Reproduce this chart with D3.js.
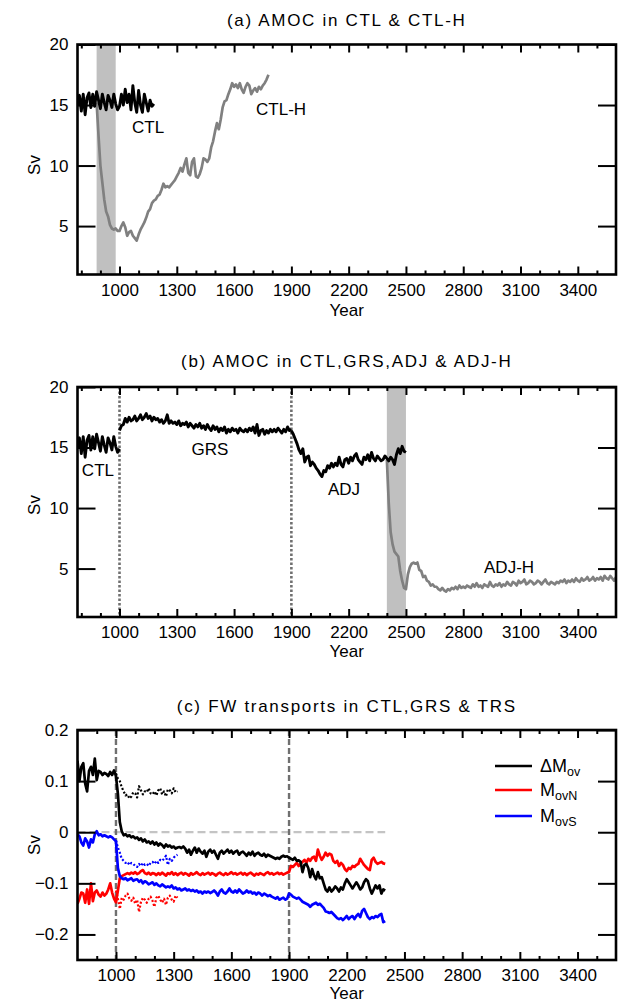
<!DOCTYPE html>
<html><head><meta charset="utf-8">
<script src="https://cdn.jsdelivr.net/npm/d3@7"></script>
<style>
body{margin:0;background:#fff}
text{font-family:"Liberation Sans",Arial,sans-serif;fill:#000}
</style>
</head><body>
<svg id="chart" width="618" height="1002"></svg>
<script>
// ---------------- DATA ----------------
// Panel (a): CTL, start 780, step 10
const ctlStart = 780;
const ctlValues = [15.0,15.8,14.5,15.9,14.2,15.6,16.0,14.8,15.9,14.9,
  16.1,15.4,14.7,15.9,15.2,14.6,15.8,15.4,14.8,15.9,
  15.1,14.6,14.9,15.9,15.0,16.3,15.2,15.9,14.6,16.6,
  15.2,14.4,16.2,15.0,14.4,15.9,15.2,14.5,15.4,14.9,15.1];
// CTL-H, start 880, step 10
const ctlhStart = 880;
const ctlhValues = [15.2,12.5,10.0,8.6,7.2,6.2,5.8,5.1,4.8,4.7,
  4.8,4.6,4.6,5.0,5.3,4.9,4.2,4.5,4.6,4.2,
  4.0,3.8,4.3,4.7,5.0,5.3,5.7,6.2,6.4,6.9,
  7.1,7.2,7.5,7.6,8.0,8.5,8.2,8.3,8.2,8.4,
  8.6,8.8,9.1,9.4,9.8,9.5,10.1,10.6,9.4,9.2,
  10.3,10.6,9.1,9.0,9.3,9.8,10.6,10.5,10.3,10.6,
  11.5,12.0,12.8,13.5,13.0,13.8,14.8,15.3,15.4,15.9,
  16.3,16.8,16.5,16.7,16.4,16.8,16.3,16.0,16.5,16.8,
  16.6,15.9,16.2,16.4,16.1,16.5,16.3,16.6,16.8,17.1,17.5];
const hosingA = [880, 980];

// Panel (b): CTL (780-1000) reuses ctlValues; GRS start 1000 step 10
const grsStart = 1000;
const grsValues = [16.4,16.8,16.9,17.4,17.1,17.5,17.2,17.3,17.6,17.2,
  17.4,17.7,17.3,17.5,17.8,17.4,17.6,17.2,17.5,17.3,
  17.4,17.1,17.3,17.0,17.2,17.7,17.0,17.2,17.0,17.1,
  16.9,17.2,16.8,17.0,16.9,17.1,16.7,17.0,16.8,16.6,
  16.9,16.7,17.0,16.6,16.8,16.5,16.9,16.6,16.4,16.8,
  16.5,16.7,16.3,16.6,16.4,16.7,16.2,16.5,16.3,16.6,
  16.4,16.5,16.2,16.6,16.4,16.3,16.5,16.3,16.6,16.4,
  16.7,16.2,16.9,16.0,16.4,16.5,16.1,16.4,16.2,16.5,
  16.3,16.5,16.3,16.6,16.4,16.2,16.5,16.3,16.7,16.4,16.5];
const adjStart = 1900;
const adjValues = [16.4,16.1,15.7,15.3,14.8,14.5,14.9,13.8,14.2,14.3,
  13.5,13.8,13.6,13.3,13.1,12.8,12.6,13.1,13.0,13.5,
  13.3,13.7,13.4,13.7,13.5,14.2,13.6,13.4,14.0,14.1,
  13.7,14.2,13.9,14.3,14.5,14.0,13.8,13.6,14.2,14.0,
  14.4,13.9,14.6,14.1,13.9,14.3,14.1,13.9,14.0,14.3,
  14.1,13.9,14.2,14.0,13.6,14.4,14.9,14.5,15.1,14.7,14.6];
const adjhStart = 2400;
const adjhValues = [14.0,10.4,8.0,7.0,6.4,6.2,6.0,4.8,4.0,3.4,
  3.3,4.5,5.1,5.4,5.5,5.4,5.5,4.9,4.8,4.3,
  4.4,4.0,3.9,3.6,3.7,3.5,3.5,3.3,3.2,3.4,
  3.2,3.1,3.3,3.2,3.4,3.3,3.5,3.3,3.6,3.4,
  3.5,3.4,3.6,3.5,3.4,3.7,3.5,3.8,3.5,3.6,
  3.4,3.7,3.6,3.5,3.9,3.6,3.5,3.7,3.6,3.8,
  3.5,3.7,3.6,3.9,3.7,3.6,3.9,3.8,3.6,4.0,
  3.8,3.9,4.1,3.7,3.8,4.0,3.9,3.7,3.8,4.0,
  3.9,3.7,3.9,4.1,3.8,3.7,3.9,3.8,3.7,3.9,
  3.8,4.0,3.9,4.1,3.8,4.0,3.9,4.1,3.9,4.2,
  4.0,3.9,4.2,4.0,4.1,4.3,4.0,4.1,4.3,4.0,
  4.2,4.1,4.3,4.0,4.4,4.2,4.1,4.4,4.2,4.0,4.3];
const hosingB = [2400, 2500];
const phaseLinesB = [1000, 1900];

// Panel (c): FW transports, start 800 step 10
const fwStart = 800;
const dMovValues = [0.140,0.100,0.128,0.135,0.095,0.080,0.120,0.128,0.112,0.144,
  0.102,0.120,0.118,0.112,0.116,0.114,0.110,0.118,0.112,0.121,
  0.110,0.075,0.020,0.002,-0.006,-0.004,-0.008,-0.006,-0.010,-0.008,
  -0.012,-0.010,-0.015,-0.012,-0.018,-0.014,-0.020,-0.018,-0.022,-0.018,
  -0.024,-0.020,-0.026,-0.022,-0.025,-0.030,-0.024,-0.028,-0.026,-0.030,
  -0.028,-0.032,-0.030,-0.029,-0.031,-0.028,-0.032,-0.040,-0.034,-0.044,
  -0.036,-0.030,-0.040,-0.032,-0.038,-0.042,-0.036,-0.048,-0.038,-0.034,
  -0.040,-0.036,-0.044,-0.052,-0.040,-0.036,-0.042,-0.038,-0.034,-0.040,
  -0.036,-0.042,-0.038,-0.036,-0.044,-0.040,-0.038,-0.042,-0.046,-0.040,
  -0.044,-0.038,-0.046,-0.042,-0.040,-0.044,-0.046,-0.042,-0.048,-0.044,
  -0.046,-0.048,-0.050,-0.052,-0.050,-0.052,-0.048,-0.046,-0.048,-0.047,
  -0.050,-0.052,-0.054,-0.050,-0.056,-0.055,-0.058,-0.078,-0.064,-0.062,
  -0.070,-0.088,-0.072,-0.085,-0.092,-0.078,-0.090,-0.088,-0.100,-0.112,
  -0.116,-0.108,-0.116,-0.112,-0.106,-0.110,-0.116,-0.108,-0.112,-0.100,
  -0.092,-0.098,-0.104,-0.110,-0.104,-0.098,-0.104,-0.112,-0.108,-0.098,
  -0.092,-0.096,-0.110,-0.120,-0.112,-0.104,-0.110,-0.104,-0.120,-0.112,
  -0.114];
const movNValues = [-0.140,-0.130,-0.118,-0.120,-0.138,-0.112,-0.140,-0.100,-0.135,-0.118,
  -0.114,-0.122,-0.126,-0.118,-0.124,-0.120,-0.112,-0.100,-0.118,-0.130,
  -0.137,-0.114,-0.090,-0.086,-0.084,-0.082,-0.080,-0.082,-0.079,-0.081,
  -0.078,-0.082,-0.080,-0.076,-0.074,-0.080,-0.082,-0.079,-0.083,-0.080,
  -0.081,-0.084,-0.080,-0.083,-0.079,-0.082,-0.085,-0.080,-0.082,-0.078,
  -0.083,-0.080,-0.084,-0.081,-0.079,-0.083,-0.080,-0.082,-0.085,-0.080,
  -0.083,-0.081,-0.078,-0.082,-0.084,-0.080,-0.083,-0.081,-0.079,-0.083,
  -0.080,-0.082,-0.085,-0.081,-0.079,-0.082,-0.084,-0.080,-0.083,-0.081,
  -0.078,-0.082,-0.080,-0.083,-0.081,-0.079,-0.083,-0.080,-0.084,-0.081,
  -0.079,-0.082,-0.085,-0.081,-0.083,-0.080,-0.082,-0.084,-0.080,-0.078,
  -0.082,-0.080,-0.083,-0.081,-0.079,-0.082,-0.080,-0.083,-0.081,-0.079,
  -0.078,-0.066,-0.068,-0.064,-0.060,-0.066,-0.062,-0.058,-0.054,-0.060,
  -0.052,-0.056,-0.050,-0.048,-0.056,-0.034,-0.046,-0.054,-0.048,-0.040,
  -0.046,-0.042,-0.044,-0.056,-0.060,-0.056,-0.066,-0.060,-0.064,-0.072,
  -0.076,-0.070,-0.072,-0.066,-0.068,-0.064,-0.062,-0.052,-0.058,-0.064,
  -0.068,-0.072,-0.074,-0.054,-0.050,-0.058,-0.062,-0.060,-0.058,-0.061,
  -0.062];
const movSValues = [-0.004,-0.008,-0.020,-0.026,-0.012,-0.018,-0.030,-0.014,-0.020,-0.004,
  0.002,-0.006,-0.004,-0.008,-0.006,-0.008,-0.010,-0.008,-0.010,-0.014,
  -0.018,-0.070,-0.086,-0.090,-0.092,-0.090,-0.094,-0.092,-0.090,-0.095,
  -0.093,-0.092,-0.097,-0.094,-0.100,-0.096,-0.098,-0.102,-0.100,-0.098,
  -0.103,-0.100,-0.104,-0.106,-0.102,-0.105,-0.108,-0.106,-0.108,-0.104,
  -0.110,-0.108,-0.112,-0.110,-0.114,-0.112,-0.110,-0.114,-0.112,-0.115,
  -0.113,-0.116,-0.114,-0.118,-0.116,-0.120,-0.116,-0.118,-0.116,-0.119,
  -0.117,-0.114,-0.118,-0.124,-0.116,-0.112,-0.118,-0.120,-0.116,-0.110,
  -0.116,-0.118,-0.114,-0.118,-0.112,-0.116,-0.120,-0.118,-0.114,-0.118,
  -0.116,-0.120,-0.118,-0.122,-0.118,-0.120,-0.124,-0.120,-0.122,-0.125,
  -0.123,-0.126,-0.128,-0.130,-0.127,-0.132,-0.130,-0.128,-0.132,-0.130,
  -0.120,-0.122,-0.126,-0.128,-0.130,-0.128,-0.132,-0.136,-0.138,-0.140,
  -0.142,-0.146,-0.142,-0.140,-0.138,-0.142,-0.140,-0.144,-0.148,-0.155,
  -0.156,-0.158,-0.156,-0.160,-0.164,-0.168,-0.170,-0.168,-0.172,-0.168,
  -0.164,-0.170,-0.166,-0.164,-0.170,-0.164,-0.160,-0.166,-0.154,-0.150,
  -0.158,-0.166,-0.170,-0.166,-0.168,-0.164,-0.166,-0.162,-0.160,-0.176,
  -0.174];
// dotted (TRS) series, start 1000 step 10
const trsStart = 1000;
const trsDMovValues = [0.115,0.105,0.100,0.088,0.080,0.072,0.074,0.066,0.070,0.078,
  0.076,0.068,0.090,0.082,0.074,0.080,0.078,0.086,0.076,0.074,
  0.080,0.072,0.082,0.086,0.074,0.080,0.070,0.084,0.082,0.076,
  0.086,0.078,0.080];
const trsMovSValues = [-0.016,-0.030,-0.040,-0.052,-0.056,-0.060,-0.058,-0.064,-0.060,-0.062,
  -0.066,-0.068,-0.062,-0.066,-0.060,-0.064,-0.062,-0.066,-0.060,-0.058,
  -0.062,-0.056,-0.060,-0.054,-0.056,-0.052,-0.046,-0.064,-0.052,-0.056,
  -0.050,-0.046,-0.044];
const trsMovNValues = [-0.114,-0.130,-0.150,-0.128,-0.132,-0.124,-0.120,-0.130,-0.134,-0.128,
  -0.140,-0.132,-0.156,-0.136,-0.128,-0.132,-0.138,-0.130,-0.126,-0.134,
  -0.146,-0.128,-0.124,-0.132,-0.138,-0.130,-0.142,-0.128,-0.124,-0.132,
  -0.136,-0.124,-0.128];
const phaseLinesC = [1000, 1900];
const zeroLineC = [800, 2400];

// ticks / labels
const xMajorTicks = [1000,1300,1600,1900,2200,2500,2800,3100,3400];
const xMinorTicks = [800,900,1100,1200,1400,1500,1700,1800,2000,2100,2300,2400,2600,2700,2900,3000,3200,3300,3500];
const yTicksAB = [5,10,15,20];
const yTicksC = [-0.2,-0.1,0,0.1,0.2];
const titles = ["(a) AMOC in CTL & CTL-H", "(b) AMOC in CTL,GRS,ADJ & ADJ-H", "(c) FW transports in CTL,GRS & TRS"];
const legendLabels = [["ΔM","ov"],["M","ovN"],["M","ovS"]];
const legendColors = ["#000000","#ff0000","#0000ff"];

// ---------------- DRAWING ----------------
const svg = d3.select("#chart");
const L = 77.5, R = 616;
const FS = 17;

const series = (start, vals) => vals.map((v, i) => [start + i * 10, v]);

function makePanel(cfg) {
  const x = d3.scaleLinear().domain(cfg.xDomain).range([L, R]);
  const y = d3.scaleLinear().domain(cfg.yDomain).range([cfg.bottom, cfg.top]);
  const g = svg.append("g");
  const clipId = "clip" + cfg.id;
  svg.append("clipPath").attr("id", clipId).append("rect")
    .attr("x", L).attr("y", cfg.top).attr("width", R - L).attr("height", cfg.bottom - cfg.top);
  const plot = g.append("g").attr("clip-path", `url(#${clipId})`);

  // title
  g.append("text").attr("x", (L + R) / 2).attr("y", cfg.titleY)
    .attr("text-anchor", "middle").style("font-size", "17px").style("letter-spacing", "1.7px")
    .text(cfg.title);
  // axis labels
  g.append("text").attr("x", (L + R) / 2).attr("y", cfg.yearY)
    .attr("text-anchor", "middle").style("font-size", FS + "px").text("Year");
  g.append("text").attr("transform", `translate(40,${cfg.svY}) rotate(-90)`)
    .attr("text-anchor", "middle").style("font-size", FS + "px").text("Sv");

  // axes
  const styleAxis = sel => {
    sel.select(".domain").remove();
    sel.selectAll("line").attr("stroke", "#000").attr("stroke-width", 2);
    sel.selectAll("text").style("font-size", FS + "px").style("font-family", '"Liberation Sans",Arial,sans-serif').attr("fill", "#000");
  };
  const minor = xMinorTicks.filter(t => t > cfg.xDomain[0]);
  g.append("g").attr("transform", `translate(0,${cfg.bottom})`)
    .call(d3.axisBottom(x).tickValues(xMajorTicks).tickSize(-8).tickPadding(9).tickFormat(d3.format("d")))
    .call(styleAxis);
  g.append("g").attr("transform", `translate(0,${cfg.bottom})`)
    .call(d3.axisBottom(x).tickValues(minor).tickSize(-4).tickFormat(""))
    .call(styleAxis);
  g.append("g").attr("transform", `translate(0,${cfg.top})`)
    .call(d3.axisTop(x).tickValues(xMajorTicks).tickSize(-8).tickFormat(""))
    .call(styleAxis);
  g.append("g").attr("transform", `translate(0,${cfg.top})`)
    .call(d3.axisTop(x).tickValues(minor).tickSize(-4).tickFormat(""))
    .call(styleAxis);
  g.append("g").attr("transform", `translate(${L},0)`)
    .call(d3.axisLeft(y).tickValues(cfg.yTicks).tickSize(-18).tickPadding(9).tickFormat(cfg.yFormat))
    .call(styleAxis);
  g.append("g").attr("transform", `translate(${R},0)`)
    .call(d3.axisRight(y).tickValues(cfg.yTicks).tickSize(-18).tickFormat(""))
    .call(styleAxis);

  cfg.draw(plot, x, y, g);

  // frame
  g.append("rect").attr("x", L).attr("y", cfg.top).attr("width", R - L).attr("height", cfg.bottom - cfg.top)
    .attr("fill", "none").attr("stroke", "#000").attr("stroke-width", 2.6);
  return {x, y};
}

const line = (x, y) => d3.line().x(d => x(d[0])).y(d => y(d[1]));
function path(plot, x, y, data, color, width, dash) {
  const p = plot.append("path").datum(data).attr("d", line(x, y))
    .attr("fill", "none").attr("stroke", color).attr("stroke-width", width)
    .attr("stroke-linejoin", "round").attr("stroke-linecap", "butt");
  if (dash) p.attr("stroke-dasharray", dash);
  return p;
}
function label(g, x, y, txt, xv, yv) {
  g.append("text").attr("x", x(xv)).attr("y", y(yv)).attr("text-anchor", "middle")
    .style("font-size", FS + "px").text(txt);
}

// Panel (a)
makePanel({
  id: "a", top: 44.5, bottom: 274.5, titleY: 26, svY: 165, yearY: 316,
  xDomain: [780, 3600], yDomain: [1, 20], yTicks: yTicksAB, yFormat: d3.format("d"),
  title: titles[0],
  draw: (plot, x, y, g) => {
    plot.append("rect").attr("x", x(hosingA[0])).attr("width", x(hosingA[1]) - x(hosingA[0]))
      .attr("y", y(20)).attr("height", y(1) - y(20)).attr("fill", "#c0c0c0");
    path(plot, x, y, series(ctlhStart, ctlhValues), "#808080", 2.7);
    path(plot, x, y, series(ctlStart, ctlValues), "#000", 2.9);
    label(g, x, y, "CTL", 1150, 12.7);
    label(g, x, y, "CTL-H", 1846, 14.2);
  }
});

// Panel (b)
makePanel({
  id: "b", top: 387, bottom: 617, titleY: 367, svY: 505, yearY: 657,
  xDomain: [780, 3600], yDomain: [1, 20], yTicks: yTicksAB, yFormat: d3.format("d"),
  title: titles[1],
  draw: (plot, x, y, g) => {
    plot.append("rect").attr("x", x(hosingB[0])).attr("width", x(hosingB[1]) - x(hosingB[0]))
      .attr("y", y(20)).attr("height", y(1) - y(20)).attr("fill", "#c0c0c0");
    phaseLinesB.forEach(t => plot.append("line").attr("x1", x(t)).attr("x2", x(t))
      .attr("y1", y(20)).attr("y2", y(1)).attr("stroke", "#707070").attr("stroke-width", 2.6)
      .attr("stroke-dasharray", "2.5,2"));
    path(plot, x, y, series(adjhStart, adjhValues), "#808080", 2.7);
    path(plot, x, y, series(ctlStart, ctlValues.slice(0, 23)), "#000", 2.9);
    path(plot, x, y, series(grsStart, grsValues), "#000", 2.9);
    path(plot, x, y, series(adjStart, adjValues), "#000", 2.9);
    label(g, x, y, "CTL", 887, 12.65);
    label(g, x, y, "GRS", 1474, 14.4);
    label(g, x, y, "ADJ", 2176, 11.1);
    label(g, x, y, "ADJ-H", 3040, 4.65);
  }
});

// Panel (c)
makePanel({
  id: "c", top: 730, bottom: 960, titleY: 711.5, svY: 845, yearY: 999,
  xDomain: [800, 3600], yDomain: [-0.25, 0.2], yTicks: yTicksC,
  yFormat: d => d === 0 ? "0" : d3.format(".1f")(d),
  title: titles[2],
  draw: (plot, x, y, g) => {
    plot.append("line").attr("x1", x(zeroLineC[0])).attr("x2", x(zeroLineC[1]))
      .attr("y1", y(0)).attr("y2", y(0)).attr("stroke", "#c4c4c4").attr("stroke-width", 2.2)
      .attr("stroke-dasharray", "8,4");
    phaseLinesC.forEach(t => plot.append("line").attr("x1", x(t)).attr("x2", x(t))
      .attr("y1", y(0.2)).attr("y2", y(-0.25)).attr("stroke", "#707070").attr("stroke-width", 2.4)
      .attr("stroke-dasharray", "6,3"));
    path(plot, x, y, series(trsStart, trsDMovValues), "#000", 2.2, "2,2");
    path(plot, x, y, series(trsStart, trsMovSValues), "#0000ff", 2.2, "2,2");
    path(plot, x, y, series(trsStart, trsMovNValues), "#ff0000", 2.2, "2,2");
    path(plot, x, y, series(fwStart, movNValues), "#ff0000", 2.7);
    path(plot, x, y, series(fwStart, movSValues), "#0000ff", 2.7);
    path(plot, x, y, series(fwStart, dMovValues), "#000", 2.7);

    // legend
    const ly = [766, 790, 816];
    legendLabels.forEach((lab, i) => {
      g.append("line").attr("x1", 495).attr("x2", 532).attr("y1", ly[i]).attr("y2", ly[i])
        .attr("stroke", legendColors[i]).attr("stroke-width", 2.7);
      const t = g.append("text").attr("x", 540).attr("y", ly[i] + 6).style("font-size", "18px");
      t.append("tspan").text(lab[0]);
      t.append("tspan").attr("dy", 4).style("font-size", "12.5px").text(lab[1]);
    });
  }
});
</script>
</body></html>
